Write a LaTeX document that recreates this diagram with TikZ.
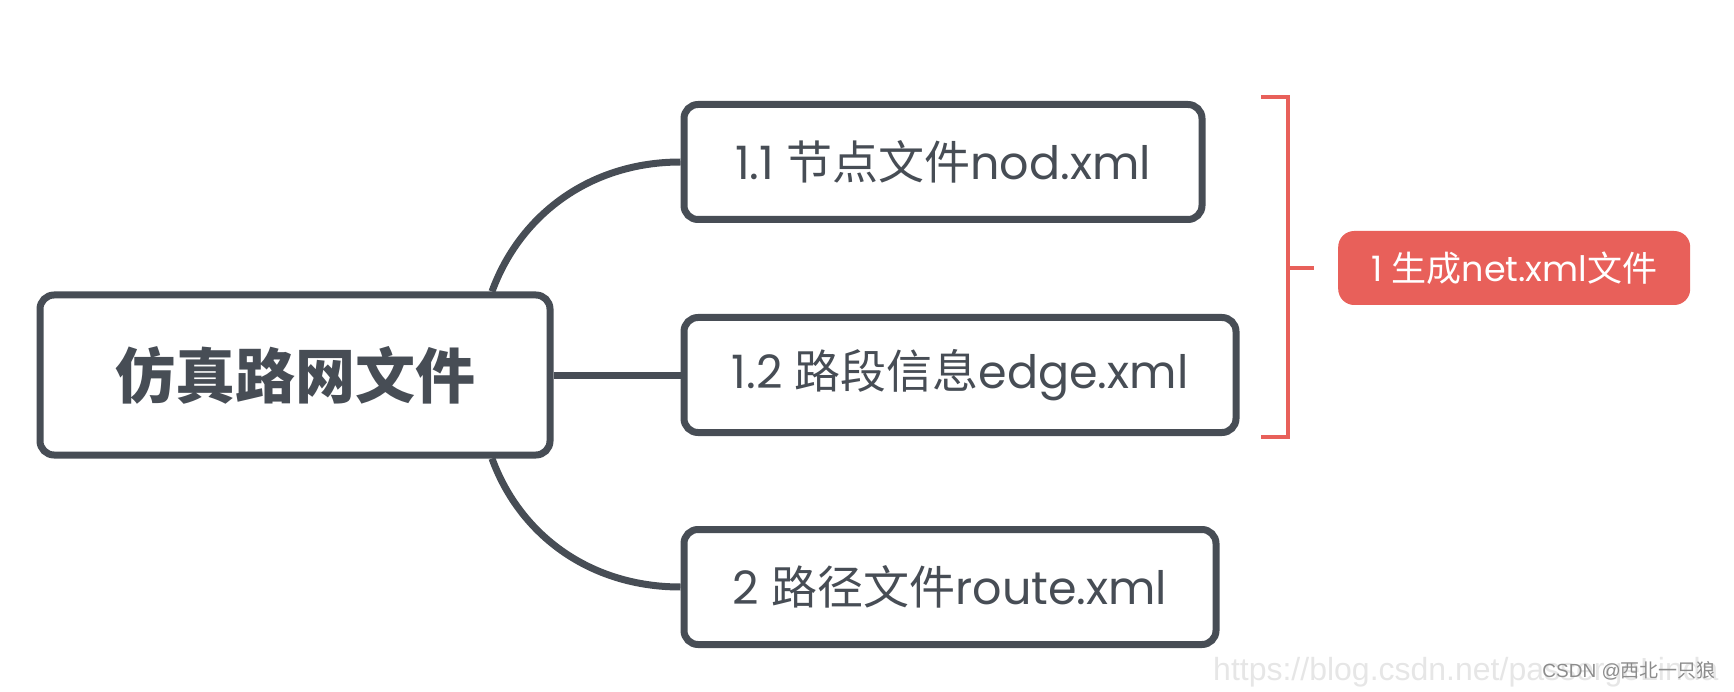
\documentclass[tikz,border=0pt]{standalone}
\usepackage{fontspec}
\setmainfont{Poppins}
\newfontfamily\cjk{Noto Sans CJK SC}
\newfontfamily\wmfont{Liberation Sans}
\usetikzlibrary{positioning}
\definecolor{mapgray}{HTML}{474D55}
\definecolor{mapred}{HTML}{E8605A}
\definecolor{wmlight}{HTML}{E6E6E6}
\definecolor{wmdark}{HTML}{8C8C8C}

\begin{document}
\begin{tikzpicture}[
    x=1pt, y=-1pt,
    root/.style={rectangle, rounded corners=14pt, draw=mapgray, line width=7pt, fill=white,
                 minimum width=510pt, minimum height=160pt, text=mapgray,
                 font=\fontsize{60}{60}\selectfont\cjk\bfseries},
    topic/.style={rectangle, rounded corners=14pt, draw=mapgray, line width=7pt, fill=white,
                  minimum height=115pt, text=mapgray, inner xsep=0pt,
                  font=\fontsize{46}{46}\selectfont},
    tag/.style={rectangle, rounded corners=16pt, fill=mapred, text=white,
                minimum width=352pt, minimum height=74pt,
                font=\fontsize{35}{35}\selectfont},
    branch/.style={draw=mapgray, line width=7pt},
    bracket/.style={draw=mapred, line width=4pt}
]
\useasboundingbox (0,0) rectangle (1734,692);

\node (main) [root] at (295,375) {仿真路网文件};
\node (n2) [topic, right=127pt of main, anchor=west, minimum width=552pt] {1.2 {\cjk 路段信息}edge.xml};
\node (n1) [topic, above=91pt of n2.north west, anchor=south west, minimum width=518pt] {1.1 {\cjk 节点文件}nod.xml};
\node (n3) [topic, below=90pt of n2.south west, anchor=north west, minimum width=532pt] {2 {\cjk 路径文件}route.xml};

% branches leave the top and bottom of the root box
\coordinate (rtop) at ([xshift=197pt]main.north);
\coordinate (rbot) at ([xshift=197pt]main.south);
\draw [branch] (rtop) .. controls +(28,-77) and +(-90,0) .. (n1.west);
\draw [branch] (rbot) .. controls +(28,77) and +(-90,0) .. (n3.west);
\draw [branch] (main.east) -- (n2.west);

% bracket grouping 1.1 and 1.2
\coordinate (brtop) at (1288,97);
\coordinate (brbot) at (1288,437);
\coordinate (brmid) at (1288,268);
\draw [bracket] ([xshift=-27pt]brtop) -- (brtop) -- (brbot) -- ([xshift=-27pt]brbot);
\draw [bracket] (brmid) -- ++(26pt,0) coordinate (brtip);
\node (gen) [tag, right=24pt of brtip] {1 {\cjk 生成}net.xml{\cjk 文件}};

% watermark
\node (url) [anchor=west, inner sep=0pt, text=wmlight, font=\fontsize{32}{32}\selectfont\wmfont] at (1213,672) {https://blog.csdn.net/passergeLinda};
\node (csdn) [anchor=east, inner sep=0pt, text=wmdark, font=\fontsize{19}{19}\selectfont\wmfont] at (1716,671) {CSDN @{\cjk 西北一只狼}};
\end{tikzpicture}
\end{document}
